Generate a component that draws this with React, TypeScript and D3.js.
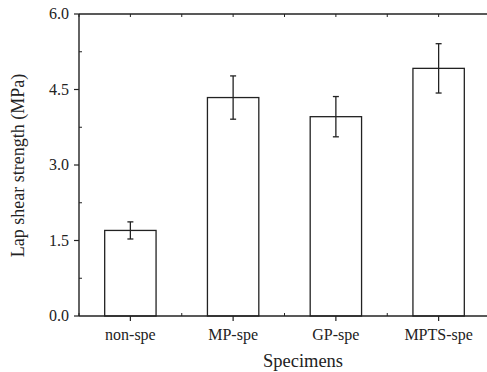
import React from "react";
import * as d3 from "d3";

const categories = ["non-spe", "MP-spe", "GP-spe", "MPTS-spe"];
const strength = [1.7, 4.34, 3.96, 4.92];
const errors = [0.17, 0.43, 0.4, 0.49];
const yTicks = [0, 1.5, 3.0, 4.5, 6.0];

export default function App() {
  const width = 487,
    height = 372;
  const margin = { left: 79, top: 14, right: -3, bottom: 56 };
  const x0 = margin.left,
    x1 = width - margin.right,
    y0 = height - margin.bottom,
    y1 = margin.top;

  const x = d3.scalePoint<string>().domain(categories).range([x0, x1]).padding(0.5);
  const step = x.step();
  const barW = step * 0.5;
  const y = d3.scaleLinear().domain([0, 6]).range([y0, y1]);

  const minorY = d3.range(0.75, 6, 1.5);
  const minorX = d3.range(categories.length + 1).map((i) => x0 + i * step);
  const font = "'Liberation Serif', 'Times New Roman', serif";

  return (
    <svg width={width} height={height} style={{ position: "absolute", left: 0, top: 0 }}>
      <rect width={width} height={height} fill="#fff" />
      {categories.map((c, i) => {
        const cx = x(c)!;
        return (
          <g key={c}>
            <rect
              x={cx - barW / 2}
              y={y(strength[i])}
              width={barW}
              height={y0 - y(strength[i])}
              fill="#fff"
              stroke="#222"
              strokeWidth={1.3}
            />
            <line x1={cx} x2={cx} y1={y(strength[i] + errors[i])} y2={y(strength[i] - errors[i])} stroke="#222" strokeWidth={1.3} />
            <line x1={cx - 3} x2={cx + 3} y1={y(strength[i] + errors[i])} y2={y(strength[i] + errors[i])} stroke="#222" strokeWidth={1.3} />
            <line x1={cx - 3} x2={cx + 3} y1={y(strength[i] - errors[i])} y2={y(strength[i] - errors[i])} stroke="#222" strokeWidth={1.3} />
          </g>
        );
      })}
      {/* axes */}
      <line x1={x0} x2={x0} y1={y1} y2={y0} stroke="#222" strokeWidth={1.4} />
      <line x1={x0} x2={width} y1={y0} y2={y0} stroke="#222" strokeWidth={1.4} />
      <line x1={x0} x2={width} y1={y1} y2={y1} stroke="#222" strokeWidth={1.4} />
      {yTicks.map((t) => (
        <g key={t}>
          <line x1={x0 - 5} x2={x0} y1={y(t)} y2={y(t)} stroke="#222" strokeWidth={1.2} />
          <text x={x0 - 10} y={y(t) + 5} textAnchor="end" fontFamily={font} fontSize={16} fill="#222">
            {t.toFixed(1)}
          </text>
        </g>
      ))}
      {minorY.map((t) => (
        <line key={t} x1={x0} x2={x0 + 3} y1={y(t)} y2={y(t)} stroke="#222" strokeWidth={1} />
      ))}
      {categories.map((c) => (
        <g key={c}>
          <line x1={x(c)} x2={x(c)} y1={y0} y2={y0 + 5} stroke="#222" strokeWidth={1.2} />
          <line x1={x(c)} x2={x(c)} y1={y1} y2={y1 + 3} stroke="#222" strokeWidth={1} />
          <text x={x(c)} y={y0 + 24} textAnchor="middle" fontFamily={font} fontSize={16} fill="#222">
            {c}
          </text>
        </g>
      ))}
      {minorX.map((m, i) => (
        <g key={i}>
          <line x1={m} x2={m} y1={y0} y2={y0 - 3} stroke="#222" strokeWidth={1} />
          <line x1={m} x2={m} y1={y1} y2={y1 + 3} stroke="#222" strokeWidth={1} />
        </g>
      ))}
      <text
        transform={`translate(24, 165.5) rotate(-90)`}
        textAnchor="middle"
        fontFamily={font}
        fontSize={18}
        fill="#222"
      >
        Lap shear strength (MPa)
      </text>
      <text x={303} y={367} textAnchor="middle" fontFamily={font} fontSize={18.5} fill="#222">
        Specimens
      </text>
    </svg>
  );
}
